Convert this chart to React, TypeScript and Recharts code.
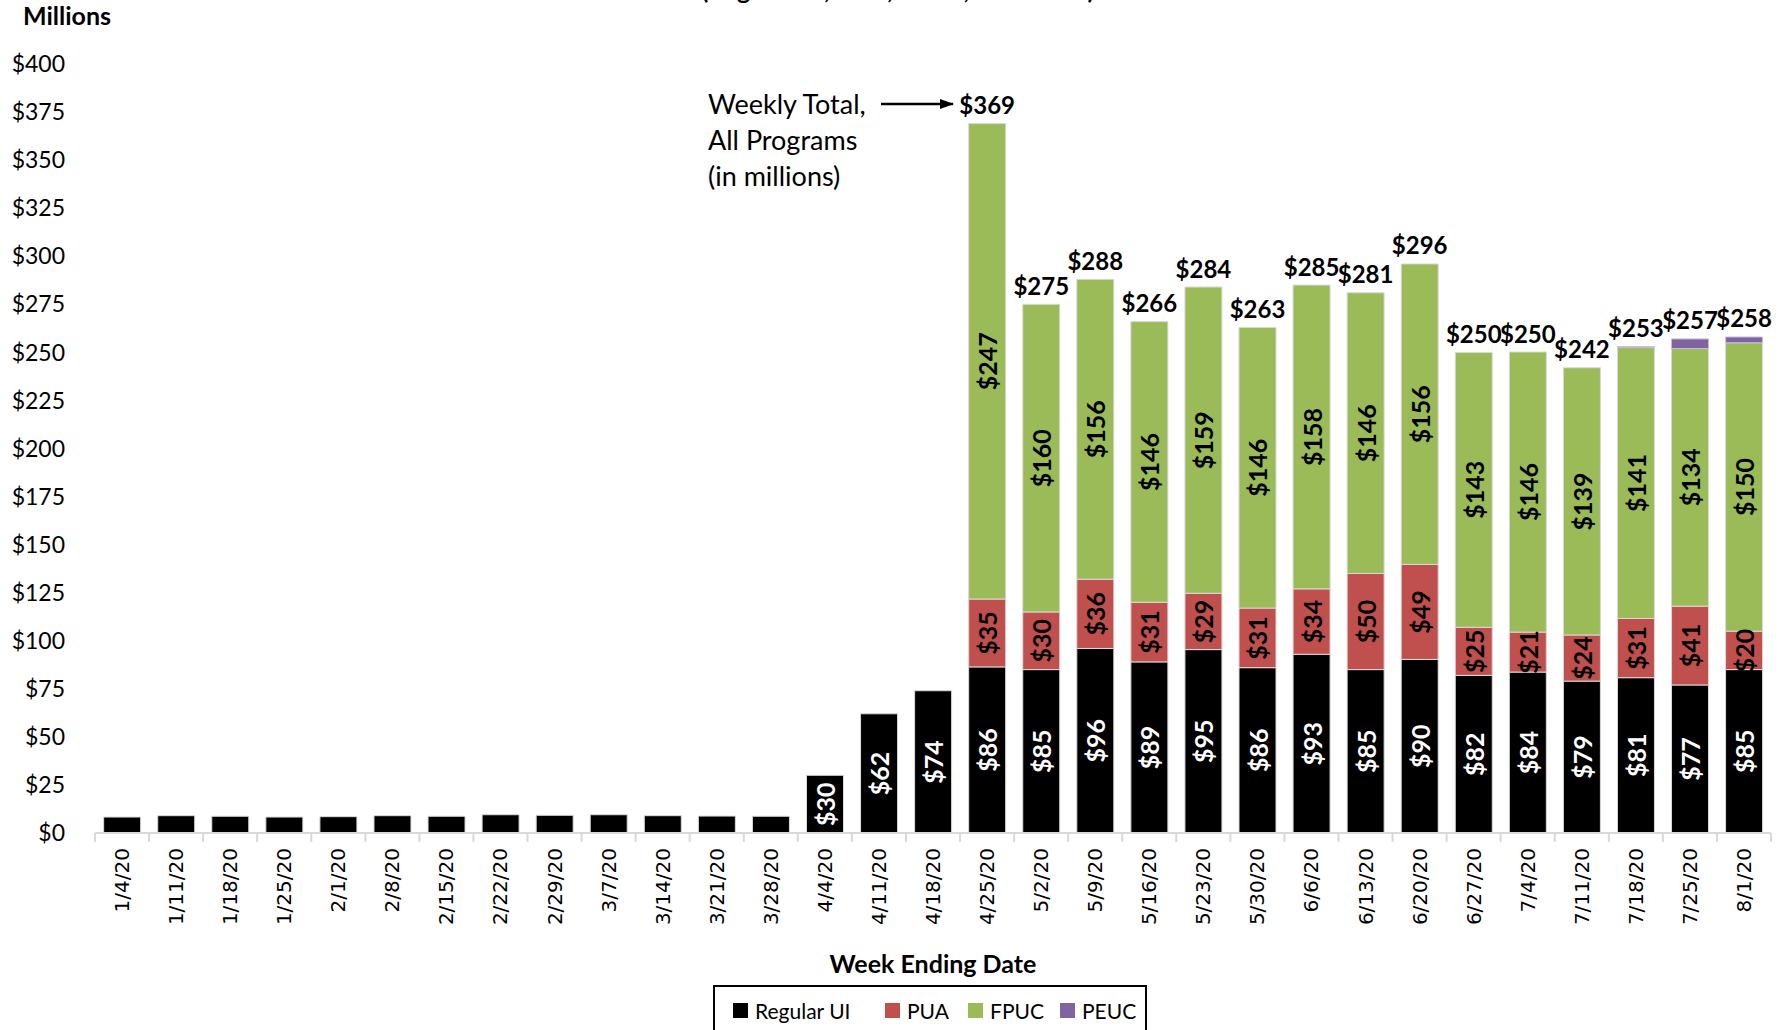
import { BarChart, Bar, XAxis, YAxis, LabelList } from "recharts"

const weeks = [
    "1/4/20", "1/11/20", "1/18/20", "1/25/20", "2/1/20", "2/8/20", "2/15/20", "2/22/20",
    "2/29/20", "3/7/20", "3/14/20", "3/21/20", "3/28/20", "4/4/20", "4/11/20", "4/18/20",
    "4/25/20", "5/2/20", "5/9/20", "5/16/20", "5/23/20", "5/30/20", "6/6/20", "6/13/20",
    "6/20/20", "6/27/20", "7/4/20", "7/11/20", "7/18/20", "7/25/20", "8/1/20",
]

const regularUI = [
    8.3, 9.0, 8.7, 8.3, 8.5, 9.0, 8.7, 9.5, 9.2, 9.5, 9.0, 8.8, 8.7, 30, 62, 74,
    86.4, 85, 96, 89, 95.4, 86, 93, 85, 90.3, 82, 83.7, 79, 80.8, 77, 85,
]
const pua = [
    0, 0, 0, 0, 0, 0, 0, 0, 0, 0, 0, 0, 0, 0, 0, 0,
    35.3, 30, 36, 31, 29.3, 31, 34, 50, 49.4, 25, 20.8, 24, 30.8, 41, 20,
]
const fpuc = [
    0, 0, 0, 0, 0, 0, 0, 0, 0, 0, 0, 0, 0, 0, 0, 0,
    247.3, 160, 156, 146, 159.3, 146, 158, 146, 156.3, 143, 145.7, 139, 140.9, 134, 150,
]
const peuc = [
    0, 0, 0, 0, 0, 0, 0, 0, 0, 0, 0, 0, 0, 0, 0, 0,
    0, 0, 0, 0, 0, 0, 0, 0, 0, 0, 0, 0, 0.5, 5, 3,
]
const totals: (number | null)[] = [
    null, null, null, null, null, null, null, null, null, null, null, null, null, null, null, null,
    369, 275, 288, 266, 284, 263, 285, 281, 296, 250, 250, 242, 253, 257, 258,
]

const yTicks = [0, 25, 50, 75, 100, 125, 150, 175, 200, 225, 250, 275, 300, 325, 350, 375, 400]

const data = weeks.map((week, i) => ({
    week,
    regularUI: regularUI[i],
    pua: pua[i],
    fpuc: fpuc[i],
    peuc: peuc[i],
    total: totals[i],
}))

const COLORS = { ui: "#000000", pua: "#C0504D", fpuc: "#9BBB59", peuc: "#8064A2" }
const FONT = "Lato, 'Open Sans', sans-serif"

const W = 1785
const H = 1030
const PLOT_LEFT = 95
const PLOT_RIGHT = 1771
const PLOT_BOTTOM = 833
const BAND = (PLOT_RIGHT - PLOT_LEFT) / weeks.length

const getBox = (props: any) => {
    const vb = props.viewBox ?? props
    const x = Number(vb.x), y = Number(vb.y), w = Number(vb.width), h = Number(vb.height)
    return { x, top: Math.min(y, y + h), w, h: Math.abs(h) }
}

// value comes from the LabelList dataKey, so it stays right even when zero bars are skipped
const innerLabel = (color: string) => (props: any) => {
    const v = Number(props.value)
    if (!v || v < 15) return null
    const { x, top, w, h } = getBox(props)
    const cx = x + w / 2
    const cy = top + h / 2
    return (
        <text x={cx} y={cy} transform={`rotate(-90 ${cx} ${cy})`} textAnchor="middle"
            dominantBaseline="central" fill={color} fontFamily={FONT} fontWeight="bold" fontSize={25}>
            {`$${Math.round(v)}`}
        </text>
    )
}

// drawn from the Regular UI bar (present for every week); the bar's own pixel height gives the scale
const totalLabel = (props: any) => {
    const t = totals[props.index]
    const ui = regularUI[props.index]
    if (t == null || !ui) return null
    const { x, top, w, h } = getBox(props)
    const bottom = top + h
    const totalTop = bottom - (h / ui) * t
    return (
        <text x={x + w / 2} y={totalTop - 19} textAnchor="middle" dominantBaseline="central"
            fill="#000" fontFamily={FONT} fontWeight="bold" fontSize={24}>
            {`$${t}`}
        </text>
    )
}

const WeekTick = (props: any) => {
    const { x, y, payload, index } = props
    const left = x - BAND / 2
    const ty = y + 15
    return (
        <g>
            <line x1={left} y1={y} x2={left} y2={y + 9} stroke="#d9d9d9" strokeWidth={2} />
            {index === weeks.length - 1 && (
                <line x1={x + BAND / 2} y1={y} x2={x + BAND / 2} y2={y + 9} stroke="#d9d9d9" strokeWidth={2} />
            )}
            <text x={x} y={ty} transform={`rotate(-90 ${x} ${ty})`} textAnchor="end"
                dominantBaseline="central" fill="#000" fontFamily="'DejaVu Sans', sans-serif" fontSize={20}>
                {payload.value}
            </text>
        </g>
    )
}

const legendItems = [
    { name: "Regular UI", color: COLORS.ui, left: 18 },
    { name: "PUA", color: COLORS.pua, left: 170 },
    { name: "FPUC", color: COLORS.fpuc, left: 253 },
    { name: "PEUC", color: COLORS.peuc, left: 345 },
]

export default function App() {
    return (
        <div style={{ position: "absolute", left: 0, top: 0, width: W, height: H, overflow: "hidden", background: "#fff" }}>
            <BarChart width={W} height={H} data={data} barCategoryGap="16%"
                margin={{ top: 64, right: W - PLOT_RIGHT, left: PLOT_LEFT - 80, bottom: 0 }}>
                <XAxis dataKey="week" interval={0} height={H - PLOT_BOTTOM} tickSize={0} tickMargin={0}
                    tickLine={false} axisLine={{ stroke: "#d9d9d9", strokeWidth: 2 }} tick={<WeekTick />} />
                <YAxis width={80} domain={[0, 400]} ticks={yTicks} axisLine={false} tickLine={false}
                    tickSize={0} tickMargin={30} tickFormatter={(v: number) => `$${v}`}
                    tick={{ fill: "#000", fontFamily: FONT, fontSize: 23 }} />
                <Bar dataKey="regularUI" stackId="a" fill={COLORS.ui} stroke="#d9d9d9" strokeWidth={1} isAnimationActive={false}>
                    <LabelList dataKey="regularUI" content={innerLabel("#fff")} />
                    <LabelList dataKey="total" content={totalLabel} />
                </Bar>
                <Bar dataKey="pua" stackId="a" fill={COLORS.pua} stroke="#d9d9d9" strokeWidth={1} isAnimationActive={false}>
                    <LabelList dataKey="pua" content={innerLabel("#000")} />
                </Bar>
                <Bar dataKey="fpuc" stackId="a" fill={COLORS.fpuc} stroke="#d9d9d9" strokeWidth={1} isAnimationActive={false}>
                    <LabelList dataKey="fpuc" content={innerLabel("#000")} />
                </Bar>
                <Bar dataKey="peuc" stackId="a" fill={COLORS.peuc} stroke="#c8bcd8" strokeWidth={1} isAnimationActive={false} />
            </BarChart>

            <svg width={W} height={H} style={{ position: "absolute", left: 0, top: 0, pointerEvents: "none" }}>
                <defs>
                    <marker id="arrowhead" markerWidth="14" markerHeight="10" refX="13" refY="5" orient="auto" markerUnits="userSpaceOnUse">
                        <path d="M0,0 L14,5 L0,10 Z" fill="#000" />
                    </marker>
                </defs>
                <text x={898} y={-1} textAnchor="middle" fontFamily={FONT} fontWeight="bold" fontSize={25} fill="#000">
                    (Regular UI, PUA, FPUC, and PEUC)
                </text>
                <text x={23} y={25} fontFamily={FONT} fontWeight="bold" fontSize={25} fill="#000">Millions</text>
                <text fontFamily={FONT} fontSize={27} fill="#000">
                    <tspan x={708} y={114}>Weekly Total,</tspan>
                    <tspan x={708} y={150}>All Programs</tspan>
                    <tspan x={708} y={186}>(in millions)</tspan>
                </text>
                <line x1={881} y1={104} x2={953} y2={104} stroke="#000" strokeWidth={2.5} markerEnd="url(#arrowhead)" />
                <text x={933} y={973} textAnchor="middle" fontFamily={FONT} fontWeight="bold" fontSize={25} fill="#000">
                    Week Ending Date
                </text>
            </svg>

            <div style={{
                position: "absolute", left: 713, top: 985, width: 434, height: 70, boxSizing: "border-box",
                border: "2px solid #000", fontFamily: FONT, fontSize: 21, color: "#000", whiteSpace: "nowrap",
            }}>
                {legendItems.map(item => (
                    <div key={item.name} style={{ position: "absolute", left: item.left, top: 9, display: "flex", alignItems: "center", height: 28 }}>
                        <span style={{ width: 15, height: 15, background: item.color, marginRight: 7, display: "inline-block" }} />
                        <span>{item.name}</span>
                    </div>
                ))}
            </div>
        </div>
    )
}
